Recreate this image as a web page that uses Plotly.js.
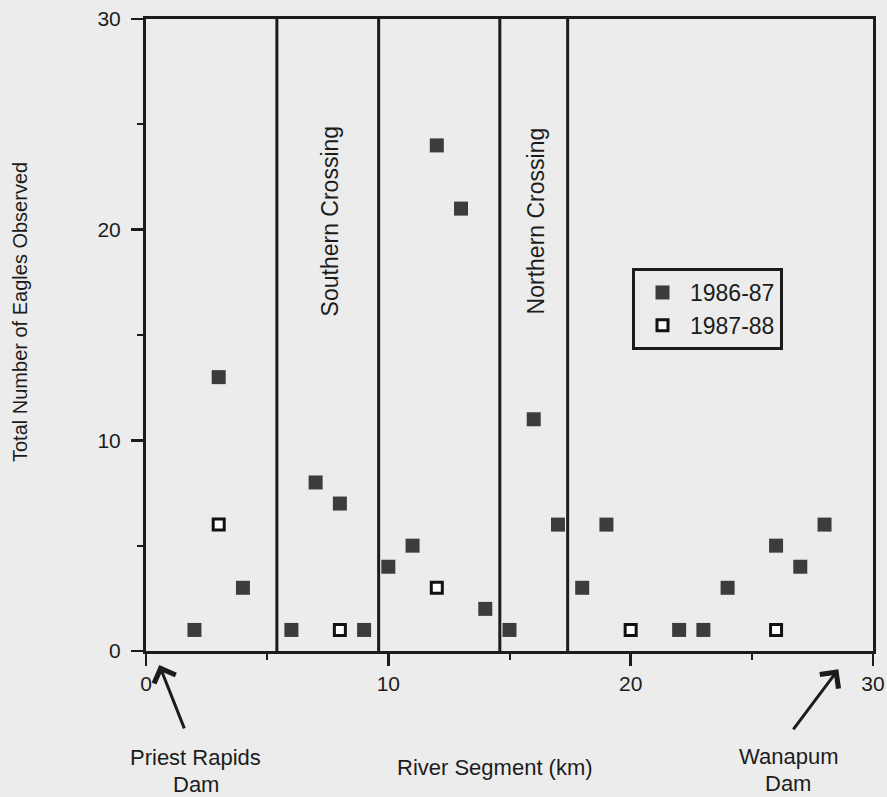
<!DOCTYPE html>
<html>
<head>
<meta charset="utf-8">
<script src="https://cdn.plot.ly/plotly-3.0.1.min.js"></script>
<style>
  html, body { margin: 0; padding: 0; background: #ececec; }
  #chart { width: 887px; height: 797px; }
</style>
</head>
<body>
<div id="chart"></div>
<script>
// River segment (km) and eagle counts, 1986-87 season
const segments8687 = [2, 3, 4, 6, 7, 8, 9, 10, 11, 12, 13, 14, 15, 16, 17, 18, 19, 22, 23, 24, 26, 27, 28];
const eagles8687   = [1, 13, 3, 1, 8, 7, 1, 4, 5, 24, 21, 2, 1, 11, 6, 3, 6, 1, 1, 3, 5, 4, 6];
// 1987-88 season
const segments8788 = [3, 8, 12, 20, 26];
const eagles8788   = [6, 1, 3, 1, 1];
// Segment boundaries of the two power-line crossings (km)
const crossingBounds = [5.4, 9.6, 14.6, 17.4];
const crossingNames = ["Southern Crossing", "Northern Crossing"];
const seriesNames = ["1986-87", "1987-88"];
const xTicks = [0, 10, 20, 30];
const yTicks = [0, 10, 20, 30];

const FONT = "Arial, 'Liberation Sans', Helvetica, sans-serif";
const INK = "#1c1c1c";

const traces = [
  {
    x: segments8687, y: eagles8687, name: seriesNames[0],
    type: "scatter", mode: "markers", cliponaxis: false,
    marker: { symbol: "square", size: 14, color: "#3c3c3c", line: { width: 0 } }
  },
  {
    x: segments8788, y: eagles8788, name: seriesNames[1],
    type: "scatter", mode: "markers", cliponaxis: false,
    marker: { symbol: "square", size: 11, color: "#ffffff", line: { width: 3, color: "#111111" } }
  }
];

const shapes = crossingBounds.map(b => ({
  type: "line", xref: "x", yref: "paper", x0: b, x1: b, y0: 0, y1: 1,
  line: { color: INK, width: 3 }
}));

function label(text, x, yshift, size) {
  return { text: text, xref: "x", yref: "paper", x: x, y: 0, yshift: yshift,
    xanchor: "center", yanchor: "middle", showarrow: false,
    font: { family: FONT, size: size || 22, color: INK } };
}

const annotations = [
  { text: crossingNames[0], xref: "x", yref: "y", x: 7.6, y: 20.4, textangle: -90,
    xanchor: "center", yanchor: "middle",
    showarrow: false, font: { family: FONT, size: 23, color: INK } },
  { text: crossingNames[1], xref: "x", yref: "y", x: 16.1, y: 20.4, textangle: -90,
    xanchor: "center", yanchor: "middle",
    showarrow: false, font: { family: FONT, size: 23, color: INK } },
  // y title
  { text: "Total Number of Eagles Observed", xref: "paper", yref: "paper", x: 0, y: 0,
    xshift: -126, yshift: 339, textangle: -90, xanchor: "center", yanchor: "middle",
    showarrow: false, font: { family: FONT, size: 20, color: INK } },
  // x title
  label("River Segment (km)", 14.4, -116),
  // dam labels
  label("Priest Rapids", 2.06, -106),
  label("Dam", 2.06, -133),
  label("Wanapum", 26.5, -105),
  label("Dam", 26.5, -132),
  // arrows pointing at the dams (paper coordinates, just below the x axis)
  { text: " ", xref: "paper", yref: "paper", x: 0.0183, y: -0.0222, ax: 28, ay: 71,
    showarrow: true, arrowhead: 4, arrowsize: 1.5, arrowwidth: 3, arrowcolor: INK },
  { text: " ", xref: "paper", yref: "paper", x: 0.9523, y: -0.029, ax: -48, ay: 64,
    showarrow: true, arrowhead: 4, arrowsize: 1.5, arrowwidth: 3, arrowcolor: INK }
];

const axisCommon = {
  range: [0, 30], showgrid: false, zeroline: false,
  showline: true, linewidth: 3, linecolor: INK, mirror: true,
  ticks: "outside", ticklen: 12, tickwidth: 2.5, tickcolor: INK,
  minor: { dtick: 5, ticks: "outside", ticklen: 6, tickwidth: 2, tickcolor: INK, showgrid: false },
  tickfont: { family: FONT, size: 21, color: INK }
};

const layout = {
  width: 887, height: 797,
  margin: { l: 146, r: 14, t: 19, b: 146 },
  paper_bgcolor: "#ececec", plot_bgcolor: "#ececec",
  showlegend: true,
  legend: {
    x: 0.6685, y: 0.606, xanchor: "left", yanchor: "top",
    bgcolor: "#ececec", bordercolor: INK, borderwidth: 3,
    font: { family: FONT, size: 23, color: INK },
    itemwidth: 45
  },
  xaxis: Object.assign({}, axisCommon, { tickvals: xTicks, ticktext: xTicks.map(String), ticklabelstandoff: 0 }),
  yaxis: Object.assign({}, axisCommon, { tickvals: yTicks, ticktext: yTicks.map(String), ticklabelstandoff: 6 }),
  shapes: shapes,
  annotations: annotations
};

Plotly.newPlot("chart", traces, layout, { staticPlot: true, displayModeBar: false });
</script>
</body>
</html>
